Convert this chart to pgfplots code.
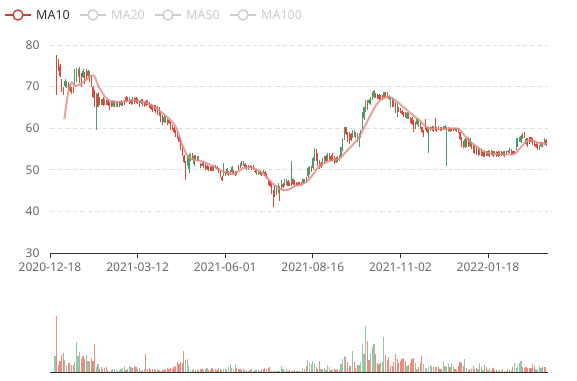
\documentclass[border=0pt]{standalone}
\usepackage{pgfplots}
\usepackage{pgfplotstable}
\pgfplotsset{compat=1.18}
\usepackage{fontspec}
\setmainfont{Noto Sans}
\definecolor{cred}{RGB}{217,74,56}
\definecolor{cgreen}{RGB}{78,154,104}
\definecolor{vred}{RGB}{235,140,126}
\definecolor{vgreen}{RGB}{150,198,168}
\definecolor{mapink}{RGB}{226,140,134}
\definecolor{axisdark}{RGB}{51,51,51}
\definecolor{labelgray}{RGB}{102,102,102}
\definecolor{gridgray}{RGB}{222,222,222}
\definecolor{legred}{RGB}{204,62,52}
\definecolor{leggray}{RGB}{204,204,204}
\definecolor{textdark}{RGB}{51,51,51}

\pgfplotstableread{
i o h l c
4 68.4 77.6 68.0 77.0
5 74.2 76.6 73.8 76.2
6 72.6 75.4 72.2 75.0
7 69.2 71.8 68.8 71.4
8 68.4 69.8 68.0 69.4
9 71.4 71.8 69.8 70.2
10 71.0 71.4 69.6 69.8
11 69.4 71.0 69.0 70.6
12 69.0 70.6 68.6 70.2
13 68.6 69.8 68.2 69.6
14 68.8 70.0 68.4 69.8
15 73.6 74.2 70.2 70.6
16 74.0 74.4 71.0 71.6
17 74.0 74.2 72.4 72.8
18 71.2 74.6 70.8 74.0
19 70.4 73.2 70.0 72.8
20 73.8 74.2 72.0 72.4
21 71.0 73.6 70.6 73.2
22 72.0 74.2 71.6 73.8
23 73.8 74.0 72.2 72.6
24 71.4 73.8 71.0 73.4
25 70.4 72.8 70.0 72.4
26 67.6 70.2 67.2 69.8
27 65.6 69.2 65.2 68.8
28 68.2 68.4 59.6 59.8
29 65.2 68.6 65.0 68.2
30 65.8 67.4 65.6 67.0
31 66.8 67.0 65.6 65.8
32 65.6 67.4 65.4 67.0
33 66.8 67.0 65.6 65.8
34 65.8 66.8 65.6 66.6
35 65.6 67.0 65.4 66.8
36 64.6 66.4 64.4 66.2
37 65.4 66.6 65.2 66.4
38 66.6 66.8 65.2 65.4
39 65.2 66.6 65.0 66.4
40 66.4 66.6 65.0 65.2
41 66.2 66.4 65.0 65.2
42 65.4 66.6 65.2 66.4
43 66.6 66.8 65.4 65.6
44 65.6 66.4 65.4 66.2
45 65.8 66.8 65.6 66.6
46 66.4 67.8 66.2 67.6
47 66.6 67.6 66.4 67.4
48 67.4 67.6 65.8 66.0
49 66.0 67.0 65.6 66.8
50 67.2 67.6 65.8 66.0
51 66.0 67.4 65.8 67.2
52 66.2 67.4 66.0 67.2
53 66.0 67.2 65.8 67.0
54 65.4 66.8 65.2 66.6
55 66.8 67.0 65.8 66.0
56 65.6 67.0 65.4 66.8
57 65.4 66.4 65.2 66.2
58 65.6 66.8 65.4 66.6
59 66.6 66.8 65.6 65.8
60 65.0 66.4 64.8 66.2
61 64.6 65.8 64.4 65.6
62 64.2 65.6 64.0 65.4
63 64.4 65.6 64.2 65.4
64 63.8 65.6 63.6 65.2
65 63.4 65.4 63.2 65.0
66 63.2 65.2 63.0 64.8
67 61.8 64.0 61.6 63.8
68 61.0 63.2 60.8 63.0
69 62.8 63.2 61.2 61.6
70 62.4 62.6 61.2 61.4
71 61.0 62.2 60.8 62.0
72 61.2 62.2 61.0 62.0
73 59.8 61.4 59.6 61.2
74 59.8 60.8 59.6 60.6
75 59.0 60.2 58.8 60.0
76 58.2 59.6 58.0 59.4
77 57.6 59.0 57.4 58.8
78 56.8 58.2 56.6 58.0
79 55.0 57.6 54.8 57.2
80 53.4 56.0 53.2 55.6
81 51.8 53.6 51.6 53.4
82 50.2 52.0 47.5 51.8
83 53.4 53.6 50.8 51.0
84 53.4 53.8 49.3 50.2
85 53.8 54.0 52.0 52.4
86 52.6 54.0 52.4 53.8
87 53.4 53.6 50.8 51.4
88 52.2 53.6 52.0 53.4
89 53.2 53.4 52.0 52.2
90 53.0 53.2 52.0 52.2
91 50.6 51.6 50.4 51.4
92 51.0 51.6 50.8 51.4
93 51.8 52.0 50.4 50.6
94 50.2 51.6 50.0 51.4
95 50.2 51.2 50.0 51.0
96 49.8 50.8 49.6 50.6
97 49.8 50.8 49.6 50.6
98 49.8 50.8 49.6 50.6
99 51.0 51.2 49.6 49.8
100 50.6 51.2 50.4 51.0
101 50.2 50.8 50.0 50.6
102 49.4 50.4 49.2 50.2
103 48.5 50.0 48.3 49.8
104 47.6 48.4 47.4 48.2
105 51.4 51.6 48.5 48.8
106 48.6 49.6 48.4 49.4
107 50.2 50.4 48.8 49.0
108 48.8 49.6 48.6 49.4
109 49.0 50.0 48.8 49.8
110 50.6 50.8 49.2 49.4
111 49.0 50.0 48.8 49.8
112 48.6 49.6 48.4 49.4
113 48.8 49.6 48.8 49.4
114 50.2 51.2 50.0 51.0
115 51.4 51.6 50.4 50.6
116 51.0 52.0 50.8 51.8
117 51.8 52.0 50.8 51.0
118 50.6 51.6 50.4 51.4
119 50.2 51.2 50.0 51.0
120 51.0 51.2 50.0 50.2
121 50.6 51.2 50.4 51.0
122 50.2 50.8 50.0 50.6
123 50.2 51.2 50.0 51.0
124 49.4 50.0 49.2 49.8
125 49.8 50.0 48.8 49.0
126 49.4 49.6 48.8 49.0
127 48.9 49.6 48.8 49.4
128 48.7 49.4 48.6 49.2
129 49.8 50.0 49.0 49.2
130 48.6 49.6 48.4 49.4
131 47.9 49.2 47.7 49.0
132 46.5 47.6 46.3 47.4
133 46.1 47.5 45.9 47.3
134 44.5 46.8 44.3 46.6
135 41.4 45.1 41.1 44.8
136 43.7 46.0 43.5 45.8
137 45.8 46.0 44.0 44.3
138 46.6 46.8 44.4 44.8
139 42.6 46.0 42.4 45.8
140 47.3 47.5 45.2 45.6
141 45.8 46.8 45.6 46.6
142 47.7 47.9 46.0 46.3
143 47.7 47.9 46.3 46.6
144 46.2 47.5 46.0 47.3
145 46.2 47.1 46.0 46.9
146 51.8 52.0 46.0 46.4
147 46.5 47.9 46.3 47.7
148 46.5 47.5 46.3 47.3
149 46.5 47.1 46.3 46.9
150 46.2 47.1 46.0 46.9
151 46.5 47.1 46.3 46.9
152 46.2 47.0 46.1 46.8
153 47.7 47.9 46.7 46.9
154 47.5 47.7 46.8 47.0
155 47.3 48.3 47.1 48.1
156 50.5 50.7 48.0 48.4
157 50.6 50.8 48.8 49.1
158 49.6 51.0 49.4 50.8
159 52.8 53.0 50.0 50.4
160 55.0 55.2 52.0 52.4
161 52.4 55.0 52.2 54.6
162 51.0 54.0 50.8 53.6
163 52.2 52.4 50.3 50.6
164 50.6 51.8 50.4 51.6
165 52.6 52.8 51.0 51.3
166 53.2 53.4 51.4 51.7
167 52.0 53.6 51.8 53.4
168 53.8 54.0 52.2 52.5
169 53.8 54.0 52.4 52.7
170 52.2 53.6 52.0 53.4
171 52.4 54.0 52.2 53.8
172 51.7 53.2 51.5 53.0
173 51.8 53.0 51.6 52.8
174 53.0 53.2 51.8 52.0
175 53.4 53.6 52.2 52.4
176 55.4 55.6 52.8 53.2
177 57.4 57.6 54.4 54.8
178 60.2 60.4 57.2 57.6
179 58.6 60.4 58.4 60.2
180 57.0 59.2 56.8 59.0
181 56.4 59.0 56.2 58.6
182 57.2 58.8 57.0 58.6
183 59.4 59.6 57.6 58.0
184 59.4 59.6 58.0 58.4
185 57.8 59.2 57.6 59.0
186 58.6 58.8 56.8 57.2
187 58.6 58.8 55.6 56.0
188 59.4 59.6 57.6 58.0
189 63.8 64.0 59.6 60.0
190 65.0 65.2 62.0 62.4
191 66.6 66.8 64.0 64.4
192 64.6 66.8 64.4 66.6
193 66.8 67.0 65.8 66.0
194 67.2 67.4 65.6 66.0
195 68.6 68.8 66.8 67.2
196 69.0 69.2 67.2 67.6
197 67.4 68.4 67.2 68.2
198 67.2 68.2 67.0 68.0
199 67.0 68.2 66.8 68.0
200 67.0 68.0 66.8 67.8
201 66.9 68.0 66.8 67.8
202 68.6 68.8 67.2 67.5
203 67.4 68.8 67.2 68.6
204 67.4 68.8 67.2 68.6
205 67.8 68.0 66.8 67.0
206 67.4 67.6 65.2 65.6
207 65.4 67.2 65.2 67.0
208 65.4 66.8 65.2 66.6
209 63.8 66.4 63.6 66.0
210 65.8 66.0 62.8 63.2
211 64.0 65.2 63.8 65.0
212 63.8 64.8 63.6 64.6
213 63.4 64.4 63.2 64.2
214 63.0 64.0 62.8 63.8
215 62.6 64.0 62.4 63.8
216 63.6 63.8 62.2 62.4
217 62.4 63.6 62.2 63.4
218 61.4 62.8 61.2 62.6
219 61.0 62.8 60.8 62.4
220 59.4 62.0 59.2 61.8
221 60.0 61.6 59.8 61.4
222 62.2 62.4 60.8 61.1
223 62.0 62.2 60.2 60.6
224 60.0 61.4 59.8 61.2
225 59.0 60.4 58.8 60.2
226 58.2 59.6 58.0 59.4
227 59.8 62.2 59.6 61.8
228 59.0 60.2 58.8 60.0
229 60.0 60.4 54.1 59.2
230 60.2 60.4 59.4 59.6
231 60.4 60.6 59.4 59.7
232 59.4 60.6 59.2 60.4
233 59.6 62.4 59.4 62.0
234 59.4 60.4 59.2 60.2
235 60.4 60.6 59.6 59.8
236 59.6 60.2 59.4 60.0
237 59.6 60.4 59.4 60.2
238 60.4 60.6 59.6 59.8
239 60.6 60.8 59.6 59.9
240 60.2 60.4 50.8 59.6
241 60.0 60.2 59.2 59.4
242 59.4 60.0 59.2 59.8
243 59.4 60.0 59.3 59.8
244 59.5 60.0 59.4 59.9
245 60.0 60.1 59.4 59.6
246 59.4 60.0 59.2 59.8
247 59.0 60.0 58.8 59.8
248 57.4 59.2 57.2 59.0
249 55.8 58.0 55.6 57.8
250 55.4 57.0 55.2 56.8
251 57.4 57.6 55.2 55.6
252 55.6 57.4 55.4 57.2
253 55.8 57.8 55.6 57.6
254 57.4 57.6 55.6 55.8
255 55.2 56.8 55.0 56.6
256 54.2 56.2 54.0 56.0
257 54.0 56.0 53.8 55.8
258 53.8 55.6 53.6 55.4
259 53.6 55.2 53.4 55.0
260 54.8 55.0 53.6 53.8
261 53.6 55.0 53.4 54.8
262 53.2 54.4 53.0 54.2
263 53.2 54.4 53.0 54.2
264 53.4 54.4 53.2 54.2
265 54.6 54.8 53.2 53.4
266 53.2 54.4 53.0 54.2
267 54.6 54.8 53.6 53.8
268 53.2 54.6 53.0 54.4
269 54.2 54.4 53.6 53.8
270 53.2 54.4 53.0 54.2
271 53.2 54.4 53.0 54.2
272 54.2 54.4 53.2 53.4
273 53.6 54.4 53.4 54.2
274 54.2 54.4 53.4 53.6
275 53.2 54.4 53.0 54.2
276 54.4 54.6 53.6 53.8
277 54.6 54.8 54.0 54.2
278 55.0 55.2 54.0 54.2
279 53.8 55.0 53.6 54.8
280 53.8 54.6 53.6 54.4
281 54.0 54.4 53.8 54.3
282 57.4 57.6 54.8 55.2
283 57.4 57.6 55.6 56.0
284 57.8 58.0 56.8 57.0
285 58.2 58.4 56.4 56.8
286 57.6 58.8 57.4 58.6
287 57.8 59.0 57.6 58.8
288 57.4 57.6 56.0 56.3
289 55.8 57.6 55.6 57.4
290 56.4 58.0 56.2 57.8
291 56.8 58.0 56.6 57.8
292 56.2 57.6 56.0 57.4
293 56.0 57.2 55.8 57.0
294 55.4 56.4 55.2 56.2
295 55.0 56.2 54.8 56.0
296 55.8 56.0 54.8 55.0
297 56.6 56.8 55.6 55.8
298 55.8 56.6 55.6 56.4
299 57.4 57.6 56.0 56.3
300 55.9 57.4 55.8 57.2
}\candles

\pgfplotstableread{
i v
8.7 62.2
10.0 66.0
11.1 68.8
12.5 70.6
13.5 71.0
15.1 70.2
18.2 70.5
22.2 71.7
24.2 72.4
26.2 72.7
27.2 72.3
29.2 70.2
31.3 68.8
33.3 67.5
35.3 66.8
38.3 66.4
42.4 66.3
46.4 66.5
50.4 66.7
54.5 66.5
58.5 66.1
62.5 65.3
66.6 64.1
70.6 62.8
74.6 61.2
76.7 59.8
78.7 57.4
80.7 55.4
82.7 53.7
84.7 52.8
86.7 52.4
90.8 52.2
92.8 51.9
96.8 51.2
100.9 50.4
104.9 49.6
108.9 49.1
110.9 49.0
113.9 49.6
117.0 50.4
121.0 50.6
125.0 50.1
128.1 49.4
131.1 48.2
135.1 46.6
139.2 45.4
142.2 45.1
145.2 45.4
148.2 46.1
151.3 46.4
155.3 47.1
158.3 48.5
161.4 50.1
164.4 51.3
168.4 52.0
172.4 52.4
175.5 52.8
178.5 54.1
181.5 55.3
184.5 56.6
187.6 58.2
190.6 60.6
193.6 62.9
196.6 65.1
199.7 66.7
203.7 67.5
205.7 67.5
208.7 66.8
211.7 65.8
215.8 64.4
219.8 63.1
223.9 61.8
226.9 60.6
229.9 59.9
233.9 59.9
240.0 59.9
247.0 59.9
250.0 58.6
254.1 56.8
258.2 55.6
262.2 54.5
266.2 53.9
272.3 53.7
278.3 53.7
281.3 53.9
284.4 55.2
287.4 56.6
290.4 57.2
293.4 56.8
296.5 56.4
300.5 56.2
}\ma

\pgfplotstableread{
i v d
3 15.7 0
4 55.7 1
5 7.3 1
6 11.3 1
7 17.3 1
8 19.0 1
9 12.3 0
10 7.3 0
11 8.7 1
12 9.0 1
13 7.3 1
14 6.7 1
15 9.7 0
16 30.0 0
17 16.3 0
18 19.7 0
19 13.3 1
20 16.3 1
21 12.7 1
22 17.0 0
23 11.3 0
24 11.3 1
25 14.0 1
26 11.3 1
27 28.3 1
28 5.0 0
29 8.0 0
30 2.7 1
31 5.0 1
32 3.0 0
33 3.7 1
34 5.3 1
35 2.0 1
36 1.5 0
37 2.0 1
38 3.0 0
39 3.0 0
40 2.5 0
41 1.5 1
42 2.0 0
43 3.0 0
44 4.0 0
45 6.0 0
46 2.0 1
47 3.5 1
48 6.0 0
49 5.0 0
50 4.0 1
51 6.0 1
52 5.0 1
53 3.0 0
54 4.0 0
55 1.5 1
56 2.0 1
57 3.0 0
58 17.7 1
59 3.5 1
60 4.0 1
61 2.5 1
62 3.0 1
63 3.0 1
64 2.5 1
65 3.5 1
66 2.0 0
67 1.5 1
68 2.0 1
69 2.5 1
70 3.5 1
71 4.0 1
72 3.0 1
73 4.0 1
74 3.0 1
75 5.0 1
76 6.0 1
77 10.0 1
78 8.0 1
79 10.0 1
80 9.0 1
81 21.3 1
82 11.7 0
83 12.7 0
84 6.0 0
85 2.5 0
86 2.0 1
87 3.0 0
88 2.5 1
89 2.0 0
90 2.5 1
91 3.0 1
92 3.0 1
93 2.0 0
94 3.0 1
95 4.0 0
96 2.0 1
97 2.5 1
98 4.0 1
99 2.0 0
100 3.0 1
101 2.5 1
102 4.0 1
103 3.0 1
104 2.5 1
105 3.0 0
106 3.0 0
107 3.0 1
108 5.0 0
109 8.3 0
110 4.0 0
111 3.0 1
112 8.3 0
113 4.0 1
114 3.0 1
115 3.0 1
116 2.5 1
117 3.0 1
118 1.5 0
119 2.0 0
120 1.5 1
121 2.0 1
122 3.0 1
123 1.5 0
124 2.0 0
125 2.0 0
126 2.0 0
127 1.5 0
128 3.0 1
129 3.5 1
130 4.0 1
131 3.0 1
132 4.0 1
133 5.0 1
134 1.0 1
135 1.0 1
136 1.0 1
137 1.0 0
138 1.0 0
139 1.0 1
140 6.0 0
141 3.0 0
142 1.0 0
143 3.0 0
144 1.0 1
145 2.0 1
146 1.0 0
147 1.0 1
148 2.0 1
149 1.0 1
150 1.0 0
151 1.0 1
152 1.5 1
153 4.0 0
154 3.0 1
155 6.0 1
156 12.3 0
157 9.0 0
158 8.0 0
159 11.0 0
160 9.0 0
161 5.0 1
162 3.0 1
163 11.3 1
164 3.0 0
165 3.0 1
166 4.0 0
167 2.0 0
168 7.3 0
169 5.0 0
170 2.0 1
171 2.0 1
172 3.0 1
173 2.5 1
174 3.0 1
175 2.5 1
176 8.0 0
177 13.3 0
178 16.3 0
179 15.0 1
180 10.0 1
181 6.0 1
182 6.0 1
183 20.7 0
184 9.7 1
185 3.7 1
186 6.7 1
187 7.3 0
188 10.0 0
189 28.0 0
190 18.0 0
191 46.0 0
192 31.0 1
193 12.3 1
194 18.3 0
195 25.0 0
196 28.0 0
197 18.3 1
198 9.0 1
199 8.0 1
200 10.0 0
201 10.0 0
202 35.0 0
203 17.3 1
204 12.3 1
205 15.0 1
206 6.0 1
207 6.0 1
208 10.0 1
209 18.3 1
210 13.0 1
211 8.7 1
212 10.7 1
213 13.3 1
214 14.0 1
215 10.7 1
216 6.3 0
217 7.3 1
218 9.0 1
219 12.7 1
220 14.3 1
221 8.7 0
222 3.3 0
223 5.3 1
224 9.0 1
225 16.0 1
226 8.0 0
227 3.3 1
228 4.0 0
229 5.0 0
230 7.3 0
231 6.3 0
232 5.3 1
233 5.3 1
234 5.3 0
235 6.0 1
236 3.3 1
237 3.3 1
238 11.3 0
239 6.0 0
240 5.0 0
241 8.0 0
242 5.0 1
243 9.0 0
244 6.0 0
245 3.3 1
246 2.0 1
247 6.3 1
248 9.7 1
249 9.0 1
250 6.0 1
251 13.0 0
252 4.0 0
253 2.0 1
254 3.0 1
255 3.0 1
256 6.3 1
257 3.0 1
258 4.0 1
259 3.0 0
260 9.0 0
261 5.0 0
262 2.0 0
263 7.3 1
264 5.3 1
265 2.0 0
266 4.0 0
267 2.0 1
268 4.0 1
269 2.3 1
270 1.7 1
271 1.0 0
272 2.0 0
273 1.0 1
274 3.3 1
275 1.3 0
276 1.0 0
277 3.0 1
278 2.0 1
279 1.7 0
280 5.3 1
281 9.0 0
282 4.0 0
283 6.0 0
284 9.0 0
285 11.0 0
286 5.0 1
287 4.0 1
288 5.0 1
289 3.7 1
290 4.0 1
291 4.3 1
292 8.0 1
293 6.3 1
294 3.0 0
295 1.7 0
296 6.0 0
297 4.3 0
298 5.3 1
299 5.3 1
300 5.0 1
}\vol

\pgfplotsset{
  candleline/.style 2 args={draw=none, mark=none, forget plot,
    error bars/y dir=plus, error bars/y explicit, error bars/error mark=none,
    error bars/error bar style={draw=#1, line width=#2, line cap=butt}},
}

\begin{document}
\begin{tikzpicture}
\useasboundingbox (0pt,0pt) rectangle (577pt,380pt);
\begin{axis}[
  at={(50pt,127pt)}, anchor=south west, scale only axis,
  width=497.5pt, height=208pt,
  xmin=0, xmax=301, ymin=30, ymax=80,
  axis x line*=bottom, axis y line*=left,
  x axis line style={-, draw=axisdark, line width=0.9pt},
  y axis line style={draw=none},
  xtick={0,53,106,159,212,265},
  xticklabels={2020-12-18,2021-03-12,2021-06-01,2021-08-16,2021-11-02,2022-01-18},
  ytick={30,40,50,60,70,80},
  xtick style={draw=axisdark, line width=0.9pt},
  ytick style={draw=none},
  tick align=outside, major tick length=5pt,
  ymajorgrids, grid style={gridgray, line width=0.8pt, dash pattern=on 4.5pt off 3pt},
  /pgf/number format/assume math mode=true,
  tick label style={font=\fontsize{12}{14}\selectfont, text=labelgray},
  yticklabel style={xshift=-2pt},
  xticklabel style={yshift=-1pt},
]
% red candles (close >= open)
\addplot[candleline={cred}{0.6pt}, x filter/.expression={\thisrow{c}>=\thisrow{o} ? x : nan}]
  table[x=i, y=l, y error plus expr={\thisrow{h}-\thisrow{l}}] {\candles};
\addplot[candleline={cred}{1.15pt}, x filter/.expression={\thisrow{c}>=\thisrow{o} ? x : nan}]
  table[x=i, y=o, y error plus expr={\thisrow{c}-\thisrow{o}}] {\candles};
% green candles (close < open)
\addplot[candleline={cgreen}{0.6pt}, x filter/.expression={\thisrow{c}<\thisrow{o} ? x : nan}]
  table[x=i, y=l, y error plus expr={\thisrow{h}-\thisrow{l}}] {\candles};
\addplot[candleline={cgreen}{1.15pt}, x filter/.expression={\thisrow{c}<\thisrow{o} ? x : nan}]
  table[x=i, y=c, y error plus expr={\thisrow{o}-\thisrow{c}}] {\candles};
% MA10
\addplot[smooth, mapink, line width=2pt, opacity=0.8] table[x=i, y=v] {\ma};
\end{axis}

\begin{axis}[
  at={(50pt,8pt)}, anchor=south west, scale only axis,
  width=497.5pt, height=60pt,
  xmin=0, xmax=301, ymin=0, ymax=60,
  axis x line*=bottom, axis y line=none,
  x axis line style={-, draw=axisdark, line width=0.9pt},
  xtick=\empty, ytick=\empty,
]
\addplot[ycomb, draw=vred, line width=1.2pt, x filter/.expression={\thisrow{d}>0.5 ? x : nan}]
  table[x=i, y=v] {\vol};
\addplot[ycomb, draw=vgreen, line width=1.2pt, x filter/.expression={\thisrow{d}<0.5 ? x : nan}]
  table[x=i, y=v] {\vol};
\end{axis}

% legend
\begin{scope}[font=\fontsize{12.5}{14}\selectfont]
\draw[legred, line width=1.4pt] (5pt,365pt) -- (31pt,365pt);
\draw[legred, line width=1.4pt, fill=white] (18pt,365pt) circle (5pt);
\node[anchor=west, text=textdark, inner sep=0pt] at (36pt,365pt) {MA10};
\draw[leggray, line width=1.4pt] (80pt,365pt) -- (106pt,365pt);
\draw[leggray, line width=1.4pt, fill=white] (93pt,365pt) circle (5pt);
\node[anchor=west, text=leggray, inner sep=0pt] at (111pt,365pt) {MA20};
\draw[leggray, line width=1.4pt] (155pt,365pt) -- (181pt,365pt);
\draw[leggray, line width=1.4pt, fill=white] (168pt,365pt) circle (5pt);
\node[anchor=west, text=leggray, inner sep=0pt] at (186pt,365pt) {MA50};
\draw[leggray, line width=1.4pt] (230pt,365pt) -- (256pt,365pt);
\draw[leggray, line width=1.4pt, fill=white] (243pt,365pt) circle (5pt);
\node[anchor=west, text=leggray, inner sep=0pt] at (261pt,365pt) {MA100};
\end{scope}
\end{tikzpicture}
\end{document}
